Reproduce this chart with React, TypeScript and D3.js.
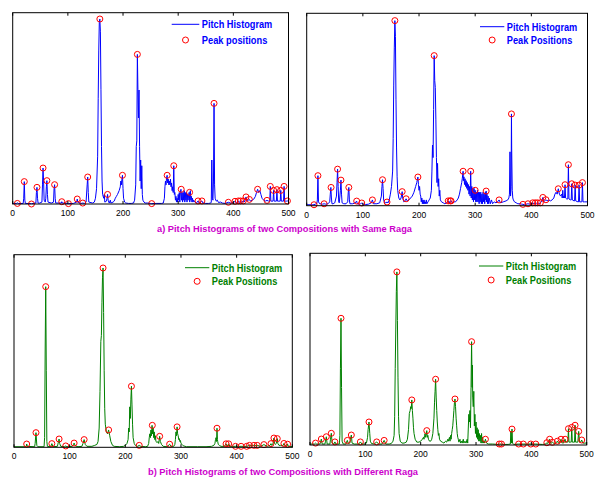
import React from 'react';
import * as d3 from 'd3';

type Pt = [number, number];

const xTicks = [0, 100, 200, 300, 400, 500];

// pitch histogram (bin, % of axis height) and detected peaks
const histSame1: Pt[] = [
  [0, 0.3], [7, 0.3], [8.5, 0.6], [10, 0.2], [19, 0.3], [20, 3], [21, 11.7], [22, 2], [23, 0.3], [33, 0.2], [34, 0.5], [35, 0.2],
  [42, 0.5], [43, 6], [44, 8.7], [45, 3], [46, 0.5], [48, 0.4], [53, 1], [54, 10], [55, 18.8], [56, 12], [57, 2], [59, 1], [60, 3],
  [61, 9], [62, 12.2], [63, 5], [64, 1], [70, 0.5], [74, 1], [75, 8], [76, 10.1], [77, 3], [78, 0.5], [88, 0.5], [89, 1.2], [90, 0.5],
  [100, 0.3], [101, 0.2], [110, 0.3], [116, 1], [117, 2.6], [118, 1], [124, 0.3], [127, 0.5], [130, 0.3], [133, 1], [135, 10],
  [136, 14.1], [137, 6], [138, 1], [145, 0.5], [148, 1], [150, 3], [152, 8], [154, 25], [155, 55], [156, 80], [157, 95], [158, 96.7],
  [159, 90], [160, 60], [161, 30], [162, 12], [163, 5], [165, 3], [166, 5], [167, 1], [170, 1.5], [171, 3], [172, 5], [173, 2],
  [175, 0.5], [177, 2], [178, 0.5], [182, 1], [184, 1.5], [186, 3], [188, 4], [190, 5], [193, 7], [195, 9], [196, 12], [197, 10],
  [198, 13], [199, 15], [200, 8], [201, 3], [203, 1], [205, 0.5], [210, 0.3], [215, 0.3], [219, 0.5], [221, 2], [223, 10], [224, 30],
  [225, 33], [226, 78.2], [227, 60], [228, 45], [229, 59.6], [230, 30], [231, 12], [232, 23], [233, 8], [234, 20], [235, 5], [236, 2],
  [238, 1], [240, 0.5], [245, 0.5], [250, 0.3], [252, 0.2], [260, 0.3], [270, 0.3], [273, 0.5], [275, 3], [276, 9], [277, 12],
  [278, 10], [279, 14], [280, 15], [281, 11], [282, 13], [283, 10], [284, 12], [285, 10], [286, 13], [287, 9], [288, 11], [289, 7],
  [290, 9], [291, 6], [292, 20], [293, 5], [294, 6], [295, 2], [296, 4], [297, 1], [298, 3], [299, 1], [300, 5], [301, 2], [302, 6],
  [303, 1], [304, 6], [305, 7.7], [306, 2], [307, 6], [308, 1], [309, 6], [310, 2], [311, 7], [312, 1], [313, 6], [314, 2], [315, 6],
  [316, 1], [317, 5], [318, 2], [319, 5], [320, 6.1], [321, 1], [322, 7], [323, 2], [324, 4], [325, 1], [326, 3], [327, 1], [328, 2],
  [330, 1], [333, 0.5], [336, 1.6], [338, 0.5], [343, 1.6], [345, 0.5], [350, 0.3], [355, 0.3], [359, 0.5], [360, 1], [361, 23],
  [362, 3], [363, 2], [364, 12], [365, 52.6], [366, 10], [367, 3], [369, 1.5], [371, 2], [373, 0.8], [377, 1], [380, 0.5], [385, 0.3],
  [391, 0.9], [395, 0.5], [400, 0.7], [403, 1.4], [406, 0.8], [409, 1.6], [411, 0.8], [413, 1.6], [415, 0.8], [418, 1.6], [420, 1],
  [423, 3.7], [425, 1.5], [427, 2], [429, 2.4], [431, 1.5], [434, 2], [437, 2.5], [440, 4], [442, 6], [444, 7.7], [446, 6], [448, 7],
  [450, 5], [452, 3], [455, 2], [458, 1.5], [461, 1.9], [464, 1.5], [466, 1.5], [467, 9.2], [468, 1.5], [472, 1.5], [473, 7.1],
  [474, 1.5], [478, 1.5], [479, 7.5], [480, 1.5], [485, 1.5], [486, 7.1], [487, 1.5], [491, 1.5], [492, 9.2], [493, 1.5], [496, 1.5],
  [498, 1.6], [500, 1.6],
];
const peaksSame1: Pt[] = [
  [8.5, 0.3], [21, 11.7], [34, 0], [44, 8.7], [55, 18.8], [62, 12.2], [76, 10.1], [89, 1.2], [101, 0.2], [117, 2.6], [127, 0.5],
  [136, 14.1], [158, 96.7], [172, 5], [199, 15], [226, 78.2], [252, 0.2], [280, 15], [292, 20], [305.5, 7.7], [320.7, 6.1],
  [336, 1.6], [343, 1.6], [365, 52.6], [391, 0.9], [403, 1.4], [409, 1.6], [413, 1.6], [418, 1.6], [423, 3.7], [429, 2.4],
  [444, 7.7], [461, 1.9], [467, 9.2], [473, 7.1], [479, 7.5], [486, 7.1], [492, 9.2], [498, 1.6],
];

const histSame2: Pt[] = [
  [0, 0.5], [10, 0.5], [13, 0.5], [15, 0.8], [18, 1], [19, 3], [20, 15.6], [21, 2], [23, 1], [28, 0.8], [31, 1], [34, 0.8], [38, 1],
  [41, 2], [42, 6], [43, 9.5], [44, 4], [45, 1], [47, 1], [50, 1.5], [53, 5], [54, 12], [55, 19], [56, 10], [57, 2], [58, 1.5],
  [60, 8], [61, 13.3], [62, 6], [63, 1.5], [66, 1], [70, 1], [73, 2], [74, 7], [75, 9.5], [76, 3], [77, 1], [82, 1], [86, 1.5],
  [88, 2], [89, 2.4], [90, 1], [93, 0.8], [96, 1], [98, 1.4], [100, 0.8], [105, 0.6], [110, 0.8], [115, 1.5], [117, 3], [119, 1],
  [125, 1], [130, 1.5], [133, 5], [134, 10], [135, 13.5], [136, 9], [137, 3], [139, 1.5], [141, 1.5], [143, 1.9], [145, 1.5],
  [147, 3], [149, 6], [151, 10], [153, 18], [154, 35], [155, 62.7], [156, 82], [157, 96.2], [158, 88], [159, 55], [160, 30],
  [161, 15], [162, 8], [164, 4], [166, 3], [168, 4], [170, 7.3], [171, 4], [173, 2], [175, 2.5], [177, 3.6], [179, 2.5], [182, 3],
  [185, 4], [188, 5], [191, 7], [194, 10], [196, 12], [198, 14.9], [199, 11], [200, 8], [201, 10], [202, 6], [203, 5], [204, 2],
  [205, 4], [206, 1], [207, 3], [208, 1], [209, 3], [210, 1], [211, 2], [212, 1], [213, 3], [214, 1], [216, 2], [218, 3], [220, 4],
  [222, 8], [223, 18], [224, 31.5], [225, 25], [226, 50], [227, 78], [228, 65], [229, 61.5], [230, 45], [231, 25], [232, 12],
  [233, 22], [234, 10], [235, 14], [236, 5], [237, 8], [238, 3], [240, 2], [243, 1.5], [246, 1], [249, 1.5], [252, 2.5], [254, 1.5],
  [255.5, 2.5], [257, 2.5], [259, 1.5], [262, 2], [265, 2], [268, 3], [270, 4], [272, 6], [274, 9], [276, 12], [277, 14],
  [278.5, 17.9], [279, 13], [280, 15], [281, 11], [282, 14], [283, 10], [284, 13], [285, 9], [286, 12], [287, 8], [288, 11], [289, 6],
  [290, 10], [291, 5], [292, 17.9], [293, 4], [294, 10], [295, 3], [296, 9], [297, 2], [298, 9], [299, 3], [300, 8], [301, 2],
  [302, 7], [303, 2], [304, 8], [305, 2], [306, 7], [307, 1], [308, 7], [309, 2], [310, 7], [311, 1], [312, 6], [313, 1], [314, 7],
  [315, 2], [316, 6], [317, 1], [318, 7], [319, 3], [319.5, 7.6], [320, 2], [321, 6], [322, 1], [323, 5], [324, 1], [325, 4],
  [327, 1], [329, 3], [331, 1], [334, 2], [337, 1.5], [340, 2], [342.6, 3], [345, 1.5], [350, 2], [355, 2.5], [358, 3], [360, 4],
  [361, 6], [362, 28], [363, 5], [364, 10], [364.6, 47.7], [365, 30], [366, 8], [367, 4], [368, 3], [370, 2], [373, 1.5], [376, 1],
  [380, 1], [383, 0.8], [385, 0.7], [388, 0.5], [391, 0.8], [394, 1], [397, 0.8], [400, 1.2], [402.5, 1.5], [405, 1], [407, 1.5],
  [409, 1], [411, 1.5], [413, 1], [416, 1.5], [418, 2], [420.5, 4.3], [422, 2], [424, 2.5], [426, 3.1], [428, 2.5], [431, 3],
  [434, 2.5], [437, 3], [440, 4], [442, 6], [444, 7], [446, 6], [448, 8.8], [450, 6], [452, 5], [454, 6], [455, 4], [456, 8],
  [457, 4], [458, 5], [459, 4], [460, 10.9], [461, 4], [463, 3.5], [465, 3.5], [466, 21.3], [467, 3.5], [470, 3], [471, 3],
  [472, 11.4], [473, 3], [476, 2.5], [477, 2.5], [478, 10.7], [479, 2.5], [483, 2], [484, 2], [485, 10.7], [486, 2], [489, 2],
  [490, 2], [491, 12], [492, 2], [495, 2], [500, 2],
];
const peaksSame2: Pt[] = [
  [13, 0.5], [20, 15.6], [31, 1], [43.4, 9.5], [55, 19], [61, 13.3], [75, 9.5], [89, 2.4], [98, 1.4], [117, 3], [135, 13.5],
  [143, 1.9], [157, 96.2], [170, 7.3], [177, 3.6], [198, 14.9], [227, 78], [252, 2.5], [255.5, 2.5], [257, 2.5], [278.5, 17.9],
  [292, 17.9], [300, 8], [319.5, 7.6], [342.6, 3], [364.6, 47.7], [385, 0.7], [394, 1], [402.5, 1.5], [407, 1.5], [411, 1.5],
  [416, 1.5], [420.5, 4.3], [426, 3.1], [448, 8.8], [460, 10.9], [466, 21.3], [472, 11.4], [478, 10.7], [485, 10.7], [491, 12],
];

const histDiff1: Pt[] = [
  [0, 0.3], [20, 0.3], [22, 0.5], [22.8, 1.7], [24, 0.5], [37, 0.3], [38, 2], [39.5, 7.6], [41, 1], [43, 0.3], [54, 0.3], [55, 5],
  [56, 50], [57, 83.4], [58, 40], [59, 3], [60, 0.5], [66, 0.3], [68, 1.9], [70, 0.3], [78, 0.5], [80, 3], [81, 4.3], [82, 2],
  [84, 0.5], [91, 0.3], [93, 0.7], [95, 0.3], [105, 0.5], [107, 1.5], [108, 2.2], [110, 0.7], [115, 0.3], [122, 0.5], [124, 2],
  [126, 4], [128, 1.5], [131, 0.5], [140, 0.5], [145, 1], [149, 1.5], [151, 3], [153, 10], [154.5, 28.9], [156, 55], [157, 58],
  [158, 75], [159, 88], [160, 93.1], [161, 70], [162, 40], [163, 20], [164, 12], [166, 8], [168, 7], [170, 9], [172, 6], [174, 3],
  [177, 1], [180, 0.5], [190, 0.3], [197, 0.5], [200, 1], [203, 2], [205, 4], [206, 10], [207, 8], [208, 21], [209, 15], [210, 25],
  [211, 31.7], [212, 22], [213, 12], [214, 5], [216, 2], [218, 1], [222, 0.5], [225, 1], [228, 0.5], [236, 0.3], [240, 0.5],
  [242, 2], [243, 5], [244, 7], [245, 5], [246, 9], [247, 6], [248, 11.4], [249, 7], [250, 10], [251, 5], [252, 8], [253, 4],
  [254, 6], [255, 3], [257, 2.5], [259, 3], [260, 2], [261, 4], [261.7, 5.7], [263, 3], [265, 1.5], [268, 0.5], [275, 0.3],
  [279.6, 1.6], [282, 0.5], [287, 0.5], [289, 1.5], [290, 4], [291, 8], [292, 6], [293, 10.6], [294, 7], [295, 6], [296, 4],
  [297, 4.5], [298, 3], [299, 3.5], [300, 2], [302, 1.5], [304, 0.8], [310, 0.3], [330, 0.3], [345, 0.3], [355, 0.5], [359, 1],
  [361, 2], [362, 4], [363, 5], [364, 3], [364.7, 9.9], [365.5, 4], [366, 3], [367, 1.5], [369, 1], [372, 0.5], [378, 0.5],
  [381, 1.8], [383, 0.5], [385.6, 1.8], [388, 0.5], [398, 0.5], [408, 0.5], [418, 0.5], [423, 1], [431, 1], [437, 1], [443, 0.5],
  [449, 1.4], [455, 0.5], [460, 1], [461.7, 1.9], [463, 1], [465, 1.5], [466, 3], [467, 4.8], [468, 2], [470, 1.5], [471, 2],
  [472, 3], [473, 4.5], [474, 2], [476, 1], [479, 1], [483, 0.8], [485, 2], [487, 0.8], [490, 0.5], [491.6, 1.6], [493, 0.5],
  [500, 0.3],
];
const peaksDiff1: Pt[] = [
  [22.8, 1.7], [39.5, 7.6], [57, 83.4], [68, 1.9], [81, 4.3], [93, 0.7], [108, 2.2], [126, 4], [160, 93.1], [170, 9],
  [211, 31.7], [225, 1], [248.5, 11.4], [261.7, 5.7], [279.6, 1.6], [293, 10.6], [364.7, 9.9], [381, 1.8], [385.6, 1.8],
  [398, 0.5], [408, 0.5], [418, 0.5], [423, 1], [431, 1], [437, 1], [449, 1.4], [461.7, 1.9], [467, 4.8], [473, 4.5],
  [485, 2], [491.6, 1.6],
];

const histDiff2: Pt[] = [
  [0, 0.5], [8, 0.5], [10, 1], [12, 0.5], [18, 0.5], [19, 1.5], [20.5, 3.1], [22, 0.5], [27, 0.5], [28, 2], [29.5, 4.3], [31, 0.5],
  [36, 0.5], [37, 3], [38.5, 6.1], [40, 1], [43, 0.5], [45, 1.6], [47, 0.5], [53, 0.5], [54, 5], [55, 40], [56, 66.1], [57, 30],
  [58, 2], [60, 0.5], [65, 0.5], [66, 1.5], [67.5, 2.4], [69, 0.8], [72, 1], [73, 3], [74.7, 5.2], [76, 1], [80, 0.5], [88, 0.5],
  [91, 1.6], [94, 0.5], [100, 0.5], [102, 1], [104, 4], [105, 8], [106.6, 12], [108, 6], [109, 2], [111, 0.8], [116, 0.5],
  [120.5, 1.6], [124, 0.5], [130, 0.5], [134, 2.4], [137, 0.5], [143, 0.5], [147, 0.8], [150, 2], [152, 5], [153, 15], [154, 40],
  [155, 60], [156, 80], [157, 90.3], [158, 65], [159, 35], [160, 15], [161, 6], [163, 2], [166, 1], [170, 1], [174, 1.5], [176, 3],
  [178, 8], [179.5, 16.5], [181, 18], [182, 20], [183, 19], [184, 23.5], [185, 18], [186, 14], [187, 9], [188, 6], [190, 3],
  [193, 1.5], [197, 1.5], [200, 2], [203, 3], [205, 4], [206, 3], [207, 5], [208, 6], [209, 4], [210, 5], [211, 7.5], [212, 4],
  [213, 5], [214, 3], [216, 2], [218, 2], [220, 3], [222, 6], [224, 14], [225, 22], [226, 28], [227, 34.3], [228, 25], [229, 18],
  [230, 12], [231, 8], [232, 5], [233, 6], [234, 3], [236, 2], [239, 1.5], [242, 1], [245, 2], [247, 1.5], [249, 3], [250, 2],
  [252, 4], [253, 2], [254, 5], [255, 3], [256, 6], [257, 8], [258, 10], [259, 14], [260, 18], [261, 22], [262, 24], [263, 20],
  [264, 14], [265, 10], [266, 6], [267, 4], [268, 3], [269, 1.5], [271, 3], [272, 1], [274, 2], [275, 1], [277, 3], [278, 1],
  [280, 2], [282, 1], [284, 3], [285, 1], [287, 16], [288, 12], [289, 18], [290, 9], [291, 30], [292, 53.9], [293, 30],
  [293.5, 41.7], [294, 25], [295, 20], [296, 28], [297, 10], [298, 16], [299, 6], [300, 12], [301, 4], [302, 9], [303, 3], [304, 8],
  [305, 2], [306, 6], [307, 2], [308, 5], [309, 1], [310, 6], [311, 1], [312, 4], [313, 1], [314, 2], [315, 1], [317, 3], [319, 1],
  [322, 0.5], [330, 0.5], [340, 0.3], [342, 0.5], [346, 0.5], [350, 0.3], [358, 0.3], [362, 0.5], [363, 7], [364, 1], [365, 8.3],
  [366, 1], [368, 0.3], [377, 0.5], [385.5, 0.5], [399, 0.5], [408, 0.5], [420, 0.3], [426, 0.5], [428, 1.2], [430, 0.8], [433, 3],
  [435, 0.8], [438, 1.4], [441, 0.8], [444, 1], [447, 2], [449, 1], [451, 1], [453.6, 3], [455, 1.2], [458, 1], [461, 3],
  [462, 1.5], [465, 1.5], [466, 1.5], [467, 8.5], [468, 1.5], [471, 1.5], [472, 1.5], [473, 9.2], [474, 1.5], [477, 1.5],
  [478, 1.5], [479, 10.3], [480, 1.5], [484, 1.5], [485.5, 7.1], [487, 1.5], [489, 1.5], [491, 2.6], [493, 1], [500, 1],
];
const peaksDiff2: Pt[] = [
  [10, 1], [20.5, 3.1], [29.5, 4.3], [38.5, 6.1], [45, 1.6], [56, 66.1], [67.5, 2.4], [74.7, 5.2], [91, 1.6], [106.6, 12],
  [120.5, 1.6], [134, 2.4], [157, 90.3], [184, 23.5], [211, 7.5], [227, 34.3], [262, 24], [292, 53.9], [317, 3], [342, 0.5],
  [346, 0.5], [365, 8.3], [377, 0.5], [385.5, 0.5], [399, 0.5], [408, 0.5], [428, 1.2], [433, 3], [438, 1.4], [447, 2],
  [453.6, 3], [461, 3], [467, 8.5], [473, 9.2], [479, 10.3], [485.5, 7.1], [491, 2.6],
];

const FONT = 'Liberation Sans, Arial, Helvetica, sans-serif';

type PanelProps = {
  box: { l: number; r: number; t: number; b: number };
  hist: Pt[];
  peaks: Pt[];
  color: string;
  peakLabel: string;
  leg: { x1: number; x2: number; y1: number; y2: number };
};

const Panel = ({ box, hist, peaks, color, peakLabel, leg }: PanelProps) => {
  const x = d3.scaleLinear().domain([0, 500]).range([box.l, box.r]);
  const y = d3.scaleLinear().domain([0, 100]).range([box.b, box.t]);
  const line = d3
    .line<Pt>()
    .x((d) => x(d[0]))
    .y((d) => y(d[1]));
  const cx = (leg.x1 + leg.x2) / 2;
  const tx = leg.x2 + 2.5;

  return (
    <g>
      <path d={line(hist) || ''} fill="none" stroke={color} strokeWidth={1} />
      {peaks.map((p, i) => (
        <circle key={i} cx={x(p[0])} cy={y(p[1])} r={3} fill="none" stroke="#ff0000" strokeWidth={1} />
      ))}
      <rect x={box.l} y={box.t} width={box.r - box.l} height={box.b - box.t} fill="none" stroke="#000" strokeWidth={1} />
      {xTicks.map((t) => (
        <g key={t}>
          <line x1={x(t)} x2={x(t)} y1={box.b} y2={box.b - 3} stroke="#000" />
          <line x1={x(t)} x2={x(t)} y1={box.t} y2={box.t + 3} stroke="#000" />
          <text x={x(t)} y={box.b + 12} fontSize={8.5} fontFamily={FONT} textAnchor="middle">
            {t}
          </text>
        </g>
      ))}
      <line x1={leg.x1} x2={leg.x2} y1={leg.y1} y2={leg.y1} stroke={color} strokeWidth={1} />
      <text x={tx} y={leg.y1 + 3.8} fontSize={10.5} fontWeight="bold" fontFamily={FONT} fill={color}
        textLength={70.5} lengthAdjust="spacingAndGlyphs">
        Pitch Histogram
      </text>
      <circle cx={cx} cy={leg.y2} r={3} fill="none" stroke="#ff0000" strokeWidth={1} />
      <text x={tx} y={leg.y2 + 3.8} fontSize={10.5} fontWeight="bold" fontFamily={FONT} fill={color}
        textLength={65.5} lengthAdjust="spacingAndGlyphs">
        {peakLabel}
      </text>
    </g>
  );
};

export default function App() {
  return (
    <svg width={597} height={478} style={{ position: 'absolute', left: 0, top: 0, background: '#fff' }}>
      <Panel box={{ l: 12.7, r: 288.5, t: 12.7, b: 204 }} hist={histSame1} peaks={peaksSame1} color="#0000ff"
        peakLabel="Peak positions" leg={{ x1: 171.7, x2: 199.3, y1: 24.3, y2: 40 }} />
      <Panel box={{ l: 306.7, r: 587.5, t: 13.3, b: 205.7 }} hist={histSame2} peaks={peaksSame2} color="#0000ff"
        peakLabel="Peak Positions" leg={{ x1: 480, x2: 504.3, y1: 26.7, y2: 40 }} />
      <Panel box={{ l: 14, r: 292.3, t: 254.7, b: 447.3 }} hist={histDiff1} peaks={peaksDiff1} color="#008000"
        peakLabel="Peak Positions" leg={{ x1: 185, x2: 209.3, y1: 267.7, y2: 281.3 }} />
      <Panel box={{ l: 310, r: 586.7, t: 253.3, b: 445 }} hist={histDiff2} peaks={peaksDiff2} color="#008000"
        peakLabel="Peak Positions" leg={{ x1: 479, x2: 503.3, y1: 266, y2: 280 }} />
      <text x={284.5} y={231.5} fontSize={9.5} fontWeight="bold" fontFamily={FONT} fill="#cc00cc" textAnchor="middle"
        textLength={255} lengthAdjust="spacingAndGlyphs">
        a) Pitch Histograms of two Compositions with Same Raga
      </text>
      <text x={283} y={474.5} fontSize={9.5} fontWeight="bold" fontFamily={FONT} fill="#cc00cc" textAnchor="middle"
        textLength={270} lengthAdjust="spacingAndGlyphs">
        b) Pitch Histograms of two Compositions with Different Raga
      </text>
    </svg>
  );
}
